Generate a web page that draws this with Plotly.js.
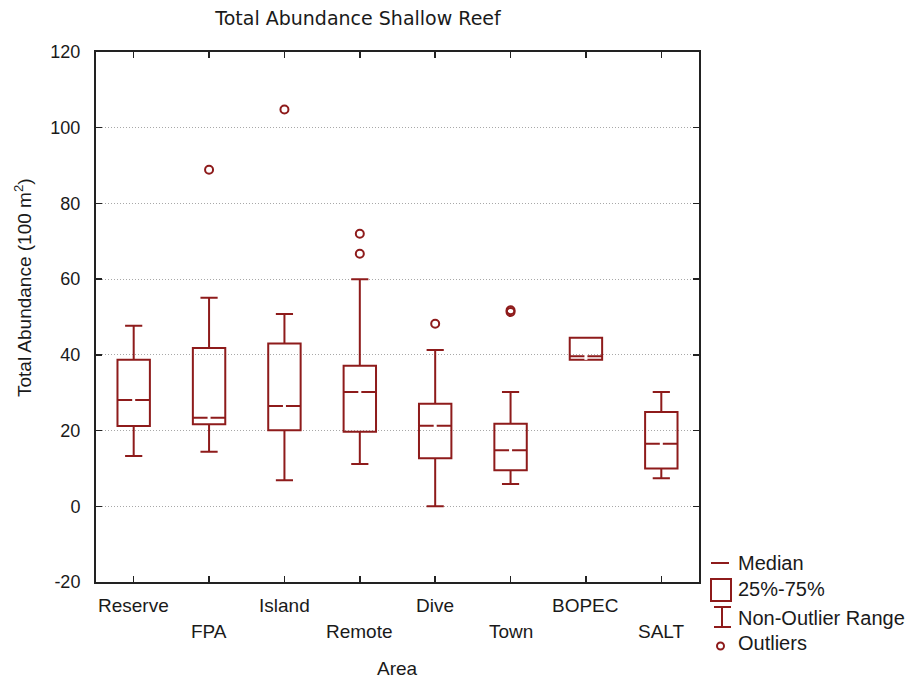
<!DOCTYPE html>
<html>
<head>
<meta charset="utf-8">
<script src="https://cdn.plot.ly/plotly-3.0.1.min.js"></script>
<style>html,body{margin:0;padding:0;background:#fff;}#chart{width:915px;height:683px;}</style>
</head>
<body>
<div id="chart"></div>
<script>
// ---- data ----
var categories = ["Reserve", "FPA", "Island", "Remote", "Dive", "Town", "BOPEC", "SALT"];
var lowerWhisker = [13.3, 14.4, 6.9, 11.2, 0.0, 5.9, 38.7, 7.4];
var q1Values     = [21.2, 21.7, 20.1, 19.7, 12.7, 9.5, 38.7, 10.0];
var medianValues = [28.1, 23.4, 26.5, 30.2, 21.3, 14.8, 39.6, 16.5];
var q3Values     = [38.7, 41.8, 43.0, 37.1, 27.1, 21.8, 44.5, 24.9];
var upperWhisker = [47.7, 55.1, 50.8, 60.0, 41.3, 30.2, 44.5, 30.2];
var outlierCategory = ["FPA", "Island", "Remote", "Remote", "Dive", "Town", "Town"];
var outlierValues   = [88.9, 104.8, 72.0, 66.7, 48.2, 51.8, 51.3];
var yTicks = [-20, 0, 20, 40, 60, 80, 100, 120];
var yTickLabels = ["-20", "0", "20", "40", "60", "80", "100", "120"];
var legendLabels = ["Median", "25%-75%", "Non-Outlier Range", "Outliers"];

// ---- layout constants ----
var RED = "#8E1B1B";
var TXT = "#1a1a1a";
var FONT = "Liberation Sans, Arial, sans-serif";
var L = 96, R = 699, T = 52, B = 582;
var W = R - L, H = B - T;
function px(xp) { return (xp - L) / W; }
function py(yp) { return (B - yp) / H; }

var idx = categories.map(function (c, i) { return i; });
var outX = outlierCategory.map(function (c) { return categories.indexOf(c); });

var traces = [
  {
    type: "box",
    x: idx,
    q1: q1Values,
    median: medianValues,
    q3: q3Values,
    lowerfence: lowerWhisker,
    upperfence: upperWhisker,
    width: 0.43,
    whiskerwidth: 0.53,
    boxpoints: false,
    fillcolor: "rgba(0,0,0,0)",
    line: { color: RED, width: 2 },
    showlegend: false,
    hoverinfo: "skip"
  },
  {
    type: "scatter",
    mode: "markers",
    x: idx,
    y: medianValues,
    marker: { symbol: "line-ns", size: 5, line: { color: "#ffffff", width: 3 } },
    showlegend: false,
    hoverinfo: "skip"
  },
  {
    type: "scatter",
    mode: "markers",
    x: outX,
    y: outlierValues,
    marker: { symbol: "circle-open", size: 8, color: RED, line: { color: RED, width: 2 } },
    showlegend: false,
    hoverinfo: "skip"
  }
];

var annotations = [];
categories.forEach(function (c, i) {
  annotations.push({
    xref: "x", yref: "paper", x: i, y: 0, yanchor: "middle", xanchor: "center",
    yshift: (i % 2 === 0) ? -23 : -49,
    text: c, showarrow: false,
    font: { family: FONT, size: 19, color: TXT }
  });
});
annotations.push({
  xref: "paper", yref: "paper", x: 0.5, y: 0, yshift: -86, yanchor: "middle",
  text: "Area", showarrow: false,
  font: { family: FONT, size: 19, color: TXT }
});
annotations.push({
  xref: "paper", yref: "paper", x: px(23), y: py(288), xanchor: "center", yanchor: "middle",
  textangle: -90, text: "Total Abundance (100 m<sup>2</sup>)", showarrow: false,
  font: { family: FONT, size: 19, color: TXT }
});
var legendY = [563, 589, 618, 643];
legendLabels.forEach(function (t, i) {
  annotations.push({
    xref: "paper", yref: "paper", x: px(736), y: py(legendY[i]), xanchor: "left", yanchor: "middle",
    text: t, showarrow: false,
    font: { family: FONT, size: 20, color: TXT }
  });
});

var shapes = [
  { type: "line", xref: "paper", yref: "paper", x0: px(711), x1: px(729), y0: py(563), y1: py(563), line: { color: RED, width: 2 } },
  { type: "rect", xref: "paper", yref: "paper", x0: px(711), x1: px(731), y0: py(579), y1: py(601), line: { color: RED, width: 2 } },
  { type: "line", xref: "paper", yref: "paper", x0: px(722), x1: px(722), y0: py(607), y1: py(627), line: { color: RED, width: 2 } },
  { type: "line", xref: "paper", yref: "paper", x0: px(714), x1: px(731), y0: py(607), y1: py(607), line: { color: RED, width: 2 } },
  { type: "line", xref: "paper", yref: "paper", x0: px(714), x1: px(731), y0: py(627), y1: py(627), line: { color: RED, width: 2 } },
  { type: "circle", xref: "paper", yref: "paper", x0: px(717), x1: px(724), y0: py(642.5), y1: py(649.5), line: { color: RED, width: 2 } }
];

var layout = {
  width: 915, height: 683,
  margin: { l: L, r: 915 - R, t: T, b: 683 - B, pad: 0 },
  paper_bgcolor: "#ffffff",
  plot_bgcolor: "#ffffff",
  title: {
    text: "Total Abundance Shallow Reef",
    x: 358 / 915, xanchor: "center", xref: "container",
    y: 1 - 18 / 683, yanchor: "middle", yref: "container",
    font: { family: "DejaVu Sans, sans-serif", size: 19, color: TXT }
  },
  xaxis: {
    range: [-0.5, 7.5],
    tickvals: idx,
    showticklabels: false,
    ticks: "inside", ticklen: 6, tickwidth: 1.5, tickcolor: "#222",
    showline: true, linecolor: "#222", linewidth: 2, mirror: "ticks",
    showgrid: false, zeroline: false, fixedrange: true
  },
  yaxis: {
    range: [-20, 120],
    tickvals: yTicks,
    ticktext: yTickLabels,
    ticks: "inside", ticklen: 6, tickwidth: 1.5, tickcolor: "#222",
    ticklabelstandoff: 10,
    tickfont: { family: FONT, size: 18, color: TXT },
    showline: true, linecolor: "#222", linewidth: 2, mirror: "ticks",
    showgrid: true, gridcolor: "#a8a8a8", gridwidth: 1, griddash: "1px,2px",
    zeroline: false, fixedrange: true
  },
  annotations: annotations,
  shapes: shapes,
  showlegend: false
};

Plotly.newPlot("chart", traces, layout, { displayModeBar: false, staticPlot: true });
</script>
</body>
</html>
